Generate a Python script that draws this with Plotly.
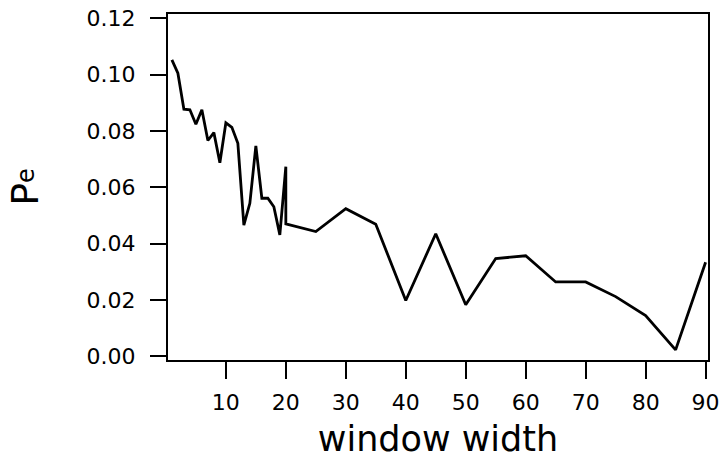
import plotly.graph_objects as go

window_width = [1, 2, 3, 4, 5, 6, 7, 8, 9, 10, 11, 12, 13, 14, 15, 16, 17, 18, 19, 20, 20,
                25, 30, 35, 40, 45, 50, 55, 60, 65, 70, 75, 80, 85, 90]
pe = [0.1052, 0.1005, 0.0877, 0.0875, 0.0824, 0.0875, 0.0766, 0.0794, 0.0687, 0.0829,
      0.0813, 0.0756, 0.0466, 0.0543, 0.0747, 0.0561, 0.0561, 0.0531, 0.0431, 0.0673, 0.0470,
      0.0443, 0.0524, 0.0469, 0.0198, 0.0435, 0.0183, 0.0347, 0.0357, 0.0264, 0.0264,
      0.0212, 0.0145, 0.0023, 0.0334]
x_ticks = [10, 20, 30, 40, 50, 60, 70, 80, 90]
y_ticks = [0.00, 0.02, 0.04, 0.06, 0.08, 0.10, 0.12]

FONT = "DejaVu Sans"

fig = go.Figure(go.Scatter(x=window_width, y=pe, mode="lines",
                           line=dict(color="black", width=2.8), showlegend=False))

fig.update_layout(
    width=721, height=459,
    margin=dict(l=168, r=13, t=14, b=99),
    paper_bgcolor="white", plot_bgcolor="white",
    font=dict(family=FONT, color="black"),
    xaxis=dict(range=[0.35, 90.4], tickvals=x_ticks, ticks="outside", ticklen=17,
               tickwidth=2, tickcolor="black", showline=True, linewidth=2.2,
               linecolor="black", mirror=True, showgrid=False, zeroline=False,
               automargin=False,
               tickfont=dict(size=22, family=FONT), ticklabelstandoff=4,
               title=dict(text="window width", font=dict(size=35, family=FONT), standoff=19)),
    yaxis=dict(range=[-0.0013, 0.1215], tickvals=y_ticks, tickformat=".2f",
               ticks="outside", ticklen=16, tickwidth=2, tickcolor="black",
               showline=True, linewidth=2.2, linecolor="black", mirror=True,
               showgrid=False, zeroline=False, automargin=False,
               tickfont=dict(size=22, family=FONT), ticklabelstandoff=10,
               title=dict(text="P<span style=\"font-size:24px;baseline-shift:4px\">e</span>",
                          font=dict(size=38, family=FONT), standoff=36)),
)

fig.write_html("out.html", config={"displayModeBar": False},
               post_script="document.body.style.margin='0';")
